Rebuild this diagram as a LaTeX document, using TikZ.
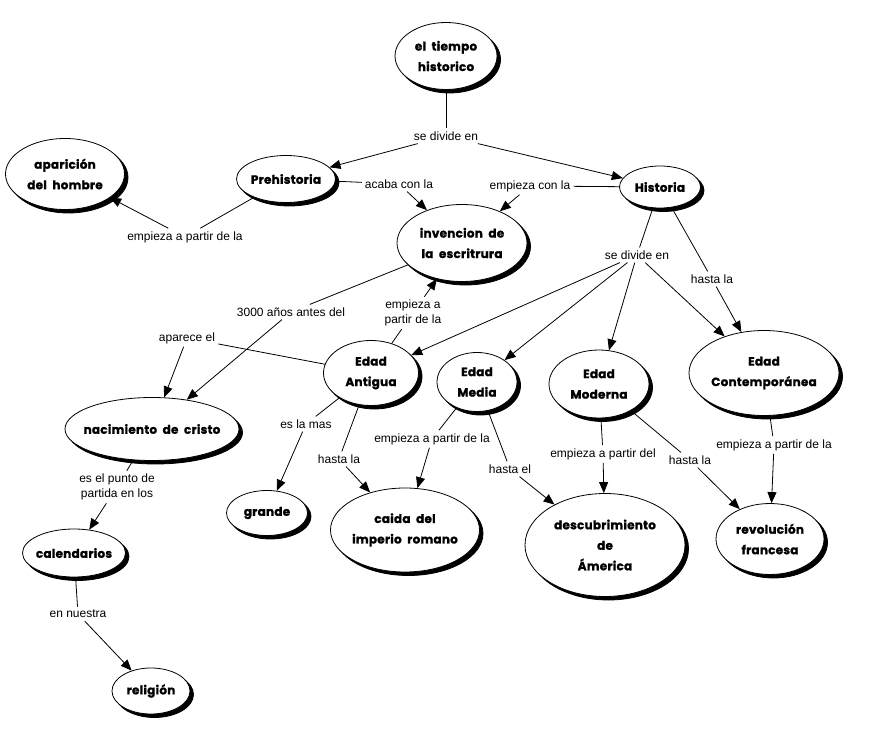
\documentclass[tikz,border=0pt]{standalone}
\usepackage{fontspec}
\setmainfont{Liberation Sans}
\newfontfamily\cfont{Poppins}[FakeBold=1.2, LetterSpace=2, WordSpace=2]
\usetikzlibrary{shapes.geometric,arrows.meta,shadows}
\begin{document}
\begin{tikzpicture}[x=1pt,y=-1pt,
  concept/.style={ellipse, draw=black, line width=0.8pt, fill=white, inner sep=0pt,
    copy shadow={shadow xshift=3.5pt, shadow yshift=-3.5pt, fill=black, draw=black}},
  ctext/.style={align=center, inner sep=0pt, font=\cfont\bfseries\fontsize{12}{20.5}\selectfont},
  link/.style={font=\fontsize{12}{15}\selectfont, inner sep=3pt, align=center},
  con/.style={line width=0.8pt},
  arr/.style={con, -{Triangle[length=11pt,width=9pt]}}]
\useasboundingbox (0,0) rectangle (879,754);
\fill[white] (0,0) rectangle (879,754);

% concepts
\node[concept, minimum width=102pt, minimum height=67pt] (t) at (446,56) {};
\node[ctext] (t-l) at (t) {el tiempo\\historico};
\node[concept, minimum width=119pt, minimum height=71pt] (apa) at (65,174) {};
\node[ctext] (apa-l) at (apa) {aparición\\del hombre};
\node[concept, minimum width=99pt, minimum height=47pt] (pre) at (286,179) {};
\node[ctext] (pre-l) at (pre) {Prehistoria};
\node[concept, minimum width=130pt, minimum height=77pt] (inv) at (462,243) {};
\node[ctext] (inv-l) at (inv) {invencion de\\la escritrura};
\node[concept, minimum width=81pt, minimum height=42pt] (hist) at (660,187) {};
\node[ctext] (hist-l) at (hist) {Historia};
\node[concept, minimum width=95pt, minimum height=65pt] (ant) at (371,373) {};
\node[ctext] (ant-l) at (ant) {Edad\\Antigua};
\node[concept, minimum width=80pt, minimum height=59pt] (med) at (477,382) {};
\node[ctext] (med-l) at (med) {Edad\\Media};
\node[concept, minimum width=100pt, minimum height=68pt] (mod) at (599,384) {};
\node[ctext] (mod-l) at (mod) {Edad\\Moderna};
\node[concept, minimum width=150pt, minimum height=85pt] (cont) at (764,373) {};
\node[ctext] (cont-l) at (cont) {Edad\\Contemporánea};
\node[concept, minimum width=174pt, minimum height=63pt] (nac) at (152,429) {};
\node[ctext] (nac-l) at (nac) {nacimiento de cristo};
\node[concept, minimum width=81pt, minimum height=45pt] (gra) at (267,513) {};
\node[ctext] (gra-l) at (gra) {grande};
\node[concept, minimum width=149pt, minimum height=84pt] (cai) at (405,530) {};
\node[ctext] (cai-l) at (cai) {caida del\\imperio romano};
\node[concept, minimum width=160pt, minimum height=103pt] (des) at (605,545) {};
\node[ctext] (des-l) at (des) {descubrimiento\\de\\Ámerica};
\node[concept, minimum width=108pt, minimum height=71pt] (rev) at (770,539) {};
\node[ctext] (rev-l) at (rev) {revolución\\francesa};
\node[concept, minimum width=103pt, minimum height=48pt] (cal) at (74,553) {};
\node[ctext] (cal-l) at (cal) {calendarios};
\node[concept, minimum width=78pt, minimum height=46pt] (rel) at (151,691) {};
\node[ctext] (rel-l) at (rel) {religión};

% linking phrases
\node[link] (l1) at (446,136) {se divide en};
\node[link] (l2) at (399,184) {acaba con la};
\node[link] (l3) at (185,237) {empieza a partir de la};
\node[link] (l4) at (530,186) {empieza con la};
\node[link] (l5) at (637,255) {se divide en};
\node[link] (l6) at (712,279) {hasta la};
\node[link] (l7) at (291,312) {3000 años antes del};
\node[link] (l8) at (413,313) {empieza a\\partir de la};
\node[link] (l9) at (187,338) {aparece el};
\node[link] (l10) at (306,424) {es la mas};
\node[link] (l11) at (339,459) {hasta la};
\node[link] (l12) at (432,439) {empieza a partir de la};
\node[link] (l13) at (510,469) {hasta el};
\node[link] (l14) at (603,454) {empieza a partir del};
\node[link] (l15) at (690,460) {hasta la};
\node[link] (l16) at (774,445) {empieza a partir de la};
\node[link] (l17) at (117,487) {es el punto de\\partida en los};
\node[link] (l18) at (78,614) {en nuestra};

% connectors
\draw[con] (t) -- (l1);
\draw[arr] (l1) -- (pre);
\draw[arr] (l1) -- (hist);
\draw[con] (pre) -- (l2);
\draw[arr] (l2) -- (inv);
\draw[con] (pre) -- (l3);
\draw[arr] (l3) -- (apa);
\draw[con] (hist) -- (l4);
\draw[arr] (l4) -- (inv);
\draw[con] (hist) -- (l5);
\draw[arr] (l5) -- (ant);
\draw[arr] (l5) -- (med);
\draw[arr] (l5) -- (mod);
\draw[arr] (l5) -- (cont);
\draw[con] (hist) -- (l6);
\draw[arr] (l6) -- (cont);
\draw[con] (inv) -- (l7);
\draw[arr] (l7) -- (nac);
\draw[con] (ant) -- (l8);
\draw[arr] (l8) -- (inv);
\draw[con] (ant) -- (l9);
\draw[arr] (l9) -- (nac);
\draw[con] (ant) -- (l10);
\draw[arr] (l10) -- (gra);
\draw[con] (ant) -- (l11);
\draw[arr] (l11) -- (cai);
\draw[con] (med) -- (l12);
\draw[arr] (l12) -- (cai);
\draw[con] (med) -- (l13);
\draw[arr] (l13) -- (des);
\draw[con] (mod) -- (l14);
\draw[arr] (l14) -- (des);
\draw[con] (mod) -- (l15);
\draw[arr] (l15) -- (rev);
\draw[con] (cont) -- (l16);
\draw[arr] (l16) -- (rev);
\draw[con] (nac) -- (l17);
\draw[arr] (l17) -- (cal);
\draw[con] (cal) -- (l18);
\draw[arr] (l18) -- (rel);
\end{tikzpicture}
\end{document}
